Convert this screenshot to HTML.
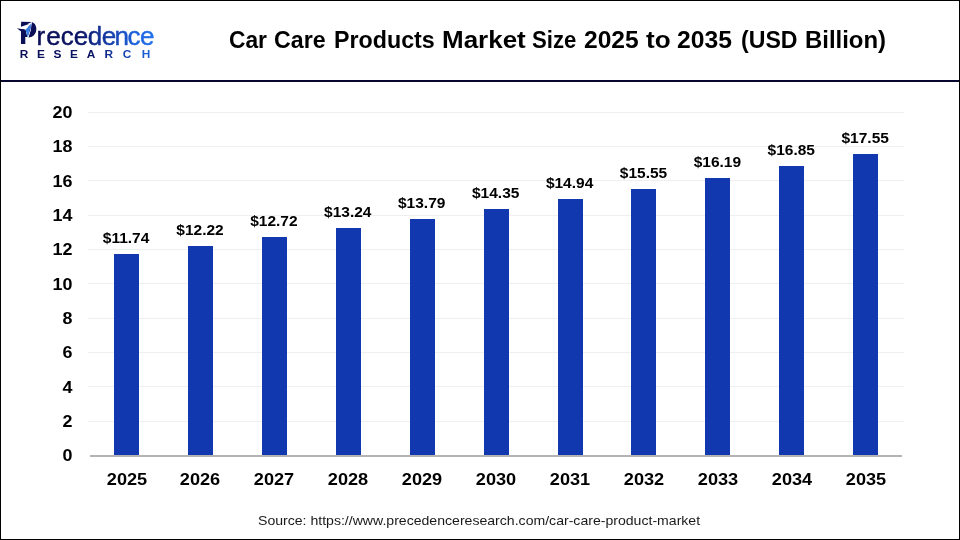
<!DOCTYPE html>
<html lang="en">
<head>
<meta charset="utf-8">
<title>Car Care Products Market Size 2025 to 2035 (USD Billion)</title>
<style>
html,body{margin:0;padding:0;background:#fff;}
body{width:960px;height:540px;position:relative;overflow:hidden;font-family:"Liberation Sans",Arial,sans-serif;color:#000;}
.frame{position:absolute;left:0;top:0;width:960px;height:540px;box-sizing:border-box;border:1px solid #000;z-index:10;pointer-events:none;}
.rule{position:absolute;left:0;top:80px;width:960px;height:2px;background:#07062e;}
.title{position:absolute;left:0;top:20px;width:960px;height:40px;line-height:40px;white-space:nowrap;font-weight:bold;font-size:23.3px;color:#000;}
.title span{position:absolute;top:0;display:block;transform-origin:0 50%;}
.logo{position:absolute;left:0;top:0;}
.grid{position:absolute;left:88px;width:815.6px;height:1px;background:#efefef;}
.axis{position:absolute;left:90px;top:455px;width:812px;height:2px;background:#b4b4b4;}
.yl{position:absolute;left:30px;width:42.4px;text-align:right;font-weight:bold;font-size:16.3px;line-height:18px;height:18px;transform:scaleX(1.1);transform-origin:100% 50%;}
.bar{position:absolute;width:25px;background:#1138ae;}
.xl{position:absolute;width:74px;text-align:center;font-weight:bold;font-size:16.5px;line-height:20px;top:468.5px;transform:scaleX(1.1);}
.dl{position:absolute;width:74px;text-align:center;font-weight:bold;font-size:15.5px;line-height:16px;}
.src{position:absolute;left:258.3px;top:513px;font-size:13px;line-height:16px;white-space:nowrap;color:#1a1a1a;transform:scaleX(1.083);transform-origin:0 50%;}
</style>
</head>
<body>
<svg class="logo" width="200" height="76" viewBox="0 0 200 76">
  <defs>
    <linearGradient id="lg1" gradientUnits="userSpaceOnUse" x1="38" y1="0" x2="154" y2="0">
      <stop offset="0" stop-color="#0a0f58"/><stop offset="0.36" stop-color="#0b1464"/><stop offset="0.56" stop-color="#14359c"/><stop offset="0.82" stop-color="#1c5fd8"/><stop offset="1" stop-color="#2272ee"/>
    </linearGradient>
    <linearGradient id="lg2" gradientUnits="userSpaceOnUse" x1="20" y1="0" x2="152" y2="0">
      <stop offset="0" stop-color="#0a0f58"/><stop offset="0.45" stop-color="#0b1464"/><stop offset="0.62" stop-color="#14359c"/><stop offset="0.85" stop-color="#1c5fd8"/><stop offset="1" stop-color="#2b74ee"/>
    </linearGradient>
  </defs>
  <text font-family="Liberation Sans, Arial, sans-serif"><tspan x="19.2" y="43.8" font-size="30" font-weight="bold" fill="#0a0f58" textLength="17.2" lengthAdjust="spacingAndGlyphs">P</tspan><tspan x="36.5 46.25 60.8 73.65 87.7 101.85 114.55 127.5 140.1" y="44.6" font-size="26" fill="url(#lg1)" stroke="url(#lg1)" stroke-width="0.45" stroke-linejoin="round">recedence</tspan></text>
  <path d="M32.1 22.2 C35.4 23.2 36.7 27 36.3 30 C35.7 34.2 32.6 37 28.5 37.7 L30.75 29.8 Z" fill="#0a0f58"/>
  <polygon points="21.1,21.7 31.9,21.9 21.1,27" fill="#0a0f58"/>
  <polygon points="31.8,22.9 16.9,28.3 25.6,29.8" fill="#ffffff"/>
  <polygon points="16.9,28.2 25.7,29.7 27.3,36 25.3,37 25.3,43.9 21.1,43.9 21.1,31.6" fill="#0a0f58"/>
  <polygon points="31.9,22.8 25.6,29.7 27.4,37.1 28.5,37.7 30.75,29.8" fill="#ffffff"/>
  <polygon points="31.75,23.05 25.6,29.7 27.55,37.1 28.9,29.9" fill="#2f7be4"/>
  <polygon points="31.8,23 30.35,29.8 27.7,37.2 27.55,37.1 28.9,29.9" fill="#1a4fc4"/>
  <text transform="scale(1.12 1)" x="17.74 33.12 47.8 62.49 77.47 93.28 109.66 126.58" y="58.1" font-family="Liberation Sans, Arial, sans-serif" font-weight="bold" font-size="10.6" fill="url(#lg2)">RESEARCH</text>
</svg>
<div class="title"><span style="left:229.27px;transform:scaleX(0.9773)">Car</span> <span style="left:274.00px;transform:scaleX(0.9950)">Care</span> <span style="left:334.00px;transform:scaleX(0.9975)">Products</span> <span style="left:441.63px;transform:scaleX(1.1154)">Market</span> <span style="left:532.29px;transform:scaleX(0.9511)">Size</span> <span style="left:583.91px;transform:scaleX(1.0554)">2025</span> <span style="left:645.97px;transform:scaleX(1.1205)">to</span> <span style="left:677.21px;transform:scaleX(1.0594)">2035</span> <span style="left:740.76px;transform:scaleX(0.9918)">(USD</span> <span style="left:805.16px;transform:scaleX(1.0269)">Billion)</span></div>
<div class="rule"></div>
<div class="grid" style="top:420.8px"></div>
<div class="grid" style="top:386.4px"></div>
<div class="grid" style="top:352.1px"></div>
<div class="grid" style="top:317.7px"></div>
<div class="grid" style="top:283.4px"></div>
<div class="grid" style="top:249.1px"></div>
<div class="grid" style="top:214.7px"></div>
<div class="grid" style="top:180.4px"></div>
<div class="grid" style="top:146.0px"></div>
<div class="grid" style="top:111.7px"></div>
<div class="yl" style="top:446.2px">0</div>
<div class="yl" style="top:411.9px">2</div>
<div class="yl" style="top:377.5px">4</div>
<div class="yl" style="top:343.2px">6</div>
<div class="yl" style="top:308.8px">8</div>
<div class="yl" style="top:274.5px">10</div>
<div class="yl" style="top:240.2px">12</div>
<div class="yl" style="top:205.8px">14</div>
<div class="yl" style="top:171.5px">16</div>
<div class="yl" style="top:137.1px">18</div>
<div class="yl" style="top:102.8px">20</div>
<div class="bar" style="left:114.0px;top:254.0px;height:201.0px"></div>
<div class="dl" style="left:89.1px;top:230.1px">$11.74</div>
<div class="xl" style="left:89.5px">2025</div>
<div class="bar" style="left:187.9px;top:245.8px;height:209.2px"></div>
<div class="dl" style="left:163.0px;top:221.9px">$12.22</div>
<div class="xl" style="left:163.4px">2026</div>
<div class="bar" style="left:261.8px;top:237.2px;height:217.8px"></div>
<div class="dl" style="left:236.9px;top:213.3px">$12.72</div>
<div class="xl" style="left:237.3px">2027</div>
<div class="bar" style="left:335.7px;top:228.3px;height:226.7px"></div>
<div class="dl" style="left:310.8px;top:204.4px">$13.24</div>
<div class="xl" style="left:311.2px">2028</div>
<div class="bar" style="left:409.6px;top:218.8px;height:236.2px"></div>
<div class="dl" style="left:384.7px;top:194.9px">$13.79</div>
<div class="xl" style="left:385.1px">2029</div>
<div class="bar" style="left:483.6px;top:209.2px;height:245.8px"></div>
<div class="dl" style="left:458.7px;top:185.3px">$14.35</div>
<div class="xl" style="left:459.1px">2030</div>
<div class="bar" style="left:557.5px;top:199.1px;height:255.9px"></div>
<div class="dl" style="left:532.6px;top:175.2px">$14.94</div>
<div class="xl" style="left:533.0px">2031</div>
<div class="bar" style="left:631.4px;top:188.6px;height:266.4px"></div>
<div class="dl" style="left:606.5px;top:164.7px">$15.55</div>
<div class="xl" style="left:606.9px">2032</div>
<div class="bar" style="left:705.3px;top:177.6px;height:277.4px"></div>
<div class="dl" style="left:680.4px;top:153.7px">$16.19</div>
<div class="xl" style="left:680.8px">2033</div>
<div class="bar" style="left:779.2px;top:166.3px;height:288.7px"></div>
<div class="dl" style="left:754.3px;top:142.4px">$16.85</div>
<div class="xl" style="left:754.7px">2034</div>
<div class="bar" style="left:853.1px;top:154.3px;height:300.7px"></div>
<div class="dl" style="left:828.2px;top:130.4px">$17.55</div>
<div class="xl" style="left:828.6px">2035</div>
<div class="axis"></div>
<div class="src">Source: https://www.precedenceresearch.com/car-care-product-market</div>
<div class="frame"></div>
</body>
</html>
